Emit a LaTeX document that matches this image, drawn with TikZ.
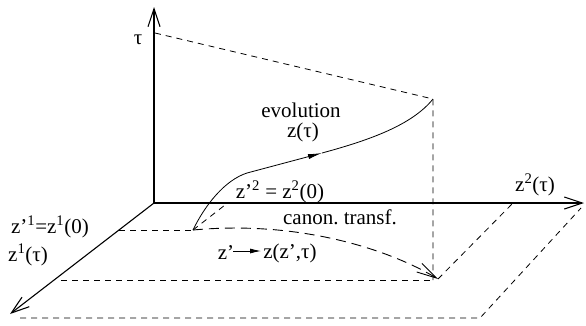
\documentclass[tikz,border=0pt]{standalone}
\usepackage{fontspec}
\setmainfont{Liberation Serif}
\usetikzlibrary{arrows.meta}
\frenchspacing
\begin{document}
\begin{tikzpicture}[x=1pt,y=-1pt,
  lbl/.style={inner sep=0pt,font=\fontsize{21}{25}\selectfont},
  axis/.style={line width=1.1pt,-{Straight Barb[length=18pt,width=12pt,line width=1.1pt]}},
  dsh/.style={line width=0.8pt,dash pattern=on 6pt off 5pt},
  ldsh/.style={line width=0.9pt,dash pattern=on 10pt off 6pt},
  thin/.style={line width=0.8pt}]
\useasboundingbox (0,0) rectangle (586,325);
% axes
\coordinate (O) at (154,203);
\coordinate (Tt) at (154,7);
\coordinate (Xt) at (584,203);
\coordinate (Yt) at (10,314);
\draw[axis] (O) -- (Tt);
\draw[axis] (O) -- (Xt);
\draw[axis] (O) -- (Yt);
% key points
\coordinate (T0) at (155,33);
\coordinate (P) at (433,99);
\coordinate (S) at (193,230);
\coordinate (Q) at (438,279);
\coordinate (Pb) at (433,280);
\coordinate (A1) at (119,230);
\coordinate (A2) at (61,280);
\coordinate (Z2) at (513,203);
\coordinate (B1) at (20,318);
\coordinate (B2) at (480,318);
\coordinate (B3) at (581,208);
\coordinate (K) at (247,173);
\coordinate (M) at (322,153);
\coordinate (D) at (225,205);
% dashed construction lines
\draw[dsh] (T0) -- (P) -- (Pb);
\draw[dsh] (A1) -- (S);
\draw[dsh] (A2) -- (Pb);
\draw[dsh] (Q) -- (Z2);
\draw[dsh] (B1) -- (B2) -- (B3);
\draw[dsh] (S) -- (D);
% evolution curve
\draw[thin] (S) .. controls (205,205) and (225,180) .. (K);
\draw[thin,-{Latex[length=14pt,width=5pt]}] (K) -- (M);
\draw[thin] (M) .. controls (370,140) and (412,125) .. (P);
% canonical transformation curve
\draw[ldsh,-{Straight Barb[length=20pt,width=10pt,line width=0.9pt]}] (S) .. controls (300,220) and (390,250) .. (Q);
% labels
\node[lbl] (tau) at (138,40) {τ};
\node[lbl] (evo) at (301,110) {evolution};
\node[lbl] (ztau) at (303,132) {z(τ)};
\node[lbl] (z2eq) at (280,192) {z’\textsuperscript{2} = z\textsuperscript{2}(0)};
\node[lbl] (can) at (340,217) {canon. transf.};
\node[lbl] (zp) at (226,253) {z’};
\node[lbl] (zz) at (290,253) {z(z’,τ)};
\coordinate (ma) at (233,251);
\coordinate (mb) at (261,251);
\draw[thin,-{Latex[length=11pt,width=5pt]}] (ma) -- (mb);
\node[lbl] (z1eq) at (50,227) {z’\textsuperscript{1}=z\textsuperscript{1}(0)};
\node[lbl] (z1t) at (28,255) {z\textsuperscript{1}(τ)};
\node[lbl] (z2t) at (535,185) {z\textsuperscript{2}(τ)};
\end{tikzpicture}
\end{document}
